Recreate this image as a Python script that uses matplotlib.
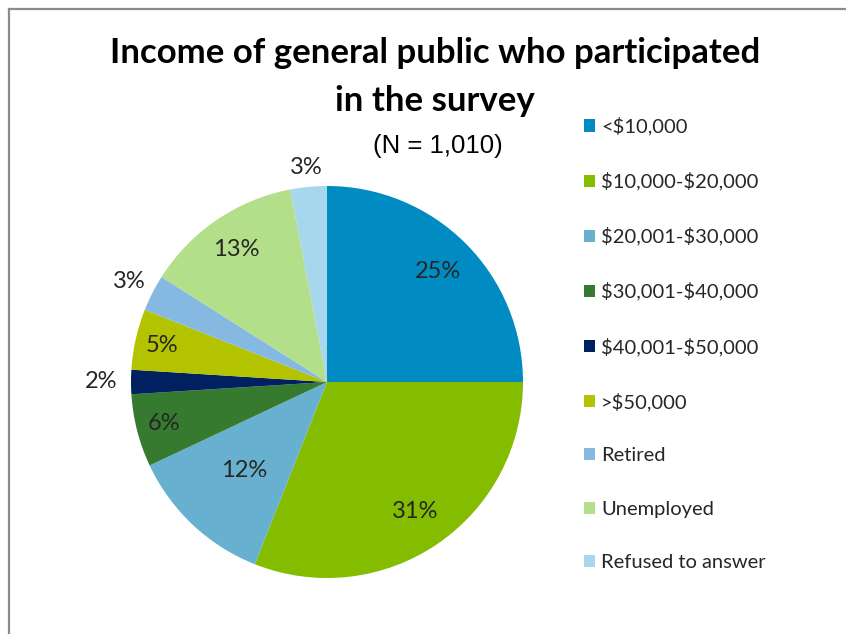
import numpy as np
import matplotlib
matplotlib.use("Agg")
import matplotlib.pyplot as plt
from matplotlib.patches import Patch
from matplotlib.lines import Line2D

plt.rcParams["text.parse_math"] = False

categories = ["<$10,000", "$10,000-$20,000", "$20,001-$30,000", "$30,001-$40,000",
              "$40,001-$50,000", ">$50,000", "Retired", "Unemployed", "Refused to answer"]
shares = [25, 31, 12, 6, 2, 5, 3, 13, 3]
colors = ["#008BC2", "#84BC00", "#67B0CF", "#357A2E", "#002060",
          "#B4C300", "#86B9E2", "#B3DE8A", "#A6D7EC"]
# radial position of each percentage label (fraction of pie radius)
label_radius = [0.80, 0.80, 0.62, 0.86, 1.15, 0.86, 1.13, 0.82, 1.10]

W, H = 846, 634
fig = plt.figure(figsize=(W / 100, H / 100), dpi=100)
fig.patch.set_facecolor("white")

# outer frame (top and left edges)
fig.add_artist(Line2D([8.5 / W, 8.5 / W], [0, 1 - 8.5 / H], transform=fig.transFigure,
                      color="#8C8C8C", lw=1.6))
fig.add_artist(Line2D([8.5 / W, 1], [1 - 8.5 / H, 1 - 8.5 / H], transform=fig.transFigure,
                      color="#8C8C8C", lw=1.6))

cx, cy, r = 327, 634 - 382, 196
ax = fig.add_axes([(cx - r) / W, (cy - r) / H, 2 * r / W, 2 * r / H])
wedges, _ = ax.pie(shares, colors=colors, startangle=90, counterclock=False,
                   radius=1.0, wedgeprops=dict(linewidth=0))
ax.set_xlim(-1, 1)
ax.set_ylim(-1, 1)
ax.set_aspect("equal")
ax.axis("off")

cum = np.cumsum([0] + shares[:-1])
for v, c0, rr in zip(shares, cum, label_radius):
    ang = np.deg2rad(90 - 360 * (c0 + v / 2) / sum(shares))
    ax.text(rr * np.cos(ang), rr * np.sin(ang), f"{v}%", ha="center", va="center",
            fontsize=17, family="Lato", color="#262626")

fig.text(435 / W, 1 - 53 / H, "Income of general public who participated",
         ha="center", va="center", fontsize=25, fontweight="bold", family="Lato",
         color="black")
fig.text(435 / W, 1 - 101 / H, "in the survey",
         ha="center", va="center", fontsize=25, fontweight="bold", family="Lato",
         color="black")
fig.text(438 / W, 1 - 146 / H, "(N = 1,010)", ha="center", va="center",
         fontsize=18.5, family="Liberation Sans", color="black")

handles = [Patch(facecolor=c, edgecolor="none") for c in colors]
leg = fig.legend(handles, categories, loc="upper left",
                 bbox_to_anchor=(584 / W, 1 - 117 / H), frameon=False,
                 prop=dict(family="Lato", size=14.5), labelcolor="#262626",
                 handlelength=0.55, handleheight=0.55, handletextpad=0.3,
                 labelspacing=1.81, borderaxespad=0, borderpad=0)

fig.savefig("out.png", dpi=100, facecolor="white")
